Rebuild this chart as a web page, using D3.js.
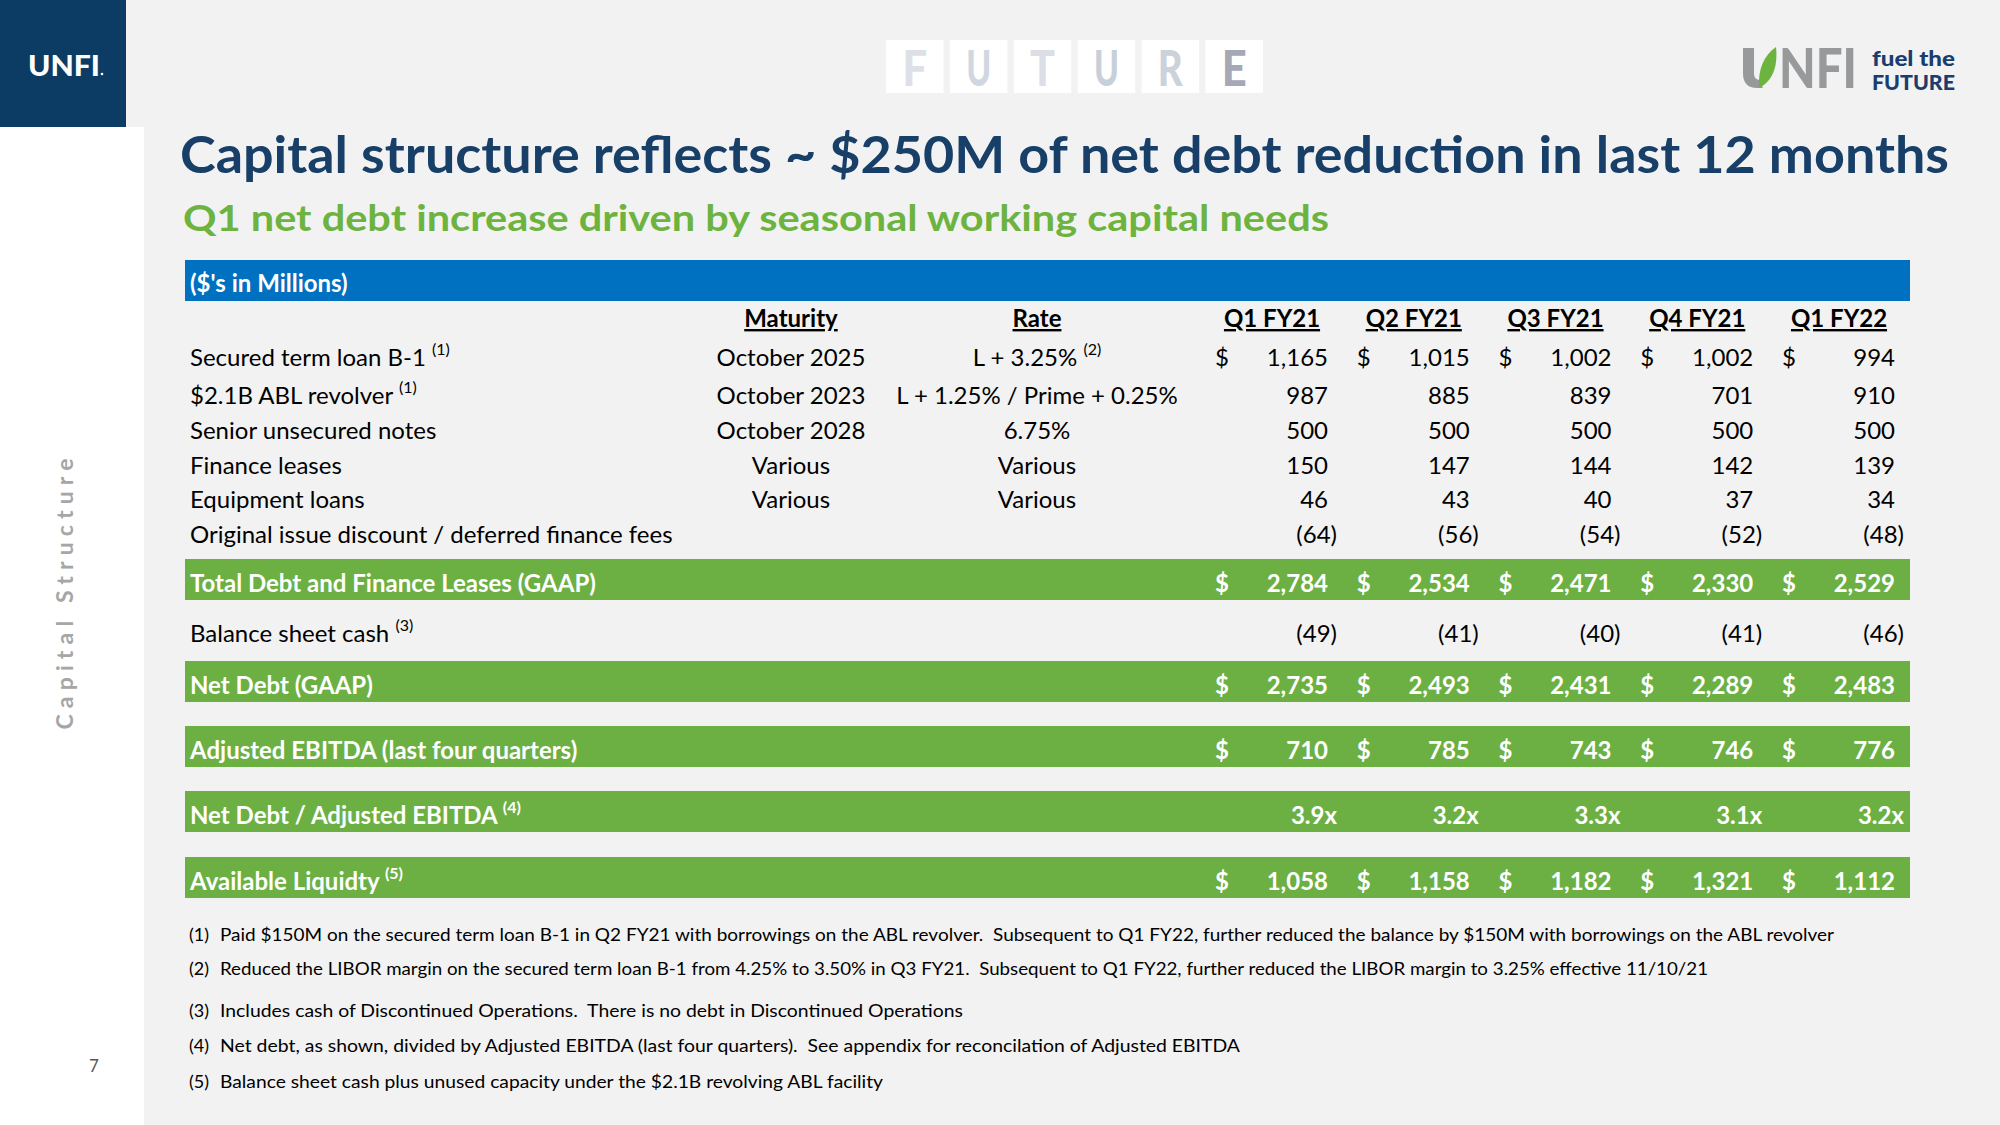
<!DOCTYPE html>
<html><head><meta charset="utf-8">
<script src="https://cdn.jsdelivr.net/npm/d3@7"></script>
<style>html,body{margin:0;padding:0;background:#f2f2f2;overflow:hidden}text{white-space:pre}</style>
</head><body>
<script>
// ---------- DATA ----------
const quarters = ["Q1 FY21", "Q2 FY21", "Q3 FY21", "Q4 FY21", "Q1 FY22"];
const debtLabels = ["Secured term loan B-1", "$2.1B ABL revolver", "Senior unsecured notes", "Finance leases", "Equipment loans", "Original issue discount / deferred finance fees"];
const debtNotes = ["(1)", "(1)", "", "", "", ""];
const maturities = ["October 2025", "October 2023", "October 2028", "Various", "Various", ""];
const rates = ["L + 3.25%", "L + 1.25% / Prime + 0.25%", "6.75%", "Various", "Various", ""];
const rateNotes = ["(2)", "", "", "", "", ""];
const securedTermLoan = [1165, 1015, 1002, 1002, 994];
const ablRevolver = [987, 885, 839, 701, 910];
const seniorNotes = [500, 500, 500, 500, 500];
const financeLeases = [150, 147, 144, 142, 139];
const equipmentLoans = [46, 43, 40, 37, 34];
const oidFees = [-64, -56, -54, -52, -48];
const totalDebt = [2784, 2534, 2471, 2330, 2529];
const balanceSheetCash = [-49, -41, -40, -41, -46];
const netDebt = [2735, 2493, 2431, 2289, 2483];
const adjEbitda = [710, 785, 743, 746, 776];
const leverage = [3.9, 3.2, 3.3, 3.1, 3.2];
const liquidity = [1058, 1158, 1182, 1321, 1112];
const footnoteNums = ["(1)", "(2)", "(3)", "(4)", "(5)"];
const footnotes = [
  "Paid $150M on the secured term loan B-1 in Q2 FY21 with borrowings on the ABL revolver.  Subsequent to Q1 FY22, further reduced the balance by $150M with borrowings on the ABL revolver",
  "Reduced the LIBOR margin on the secured term loan B-1 from 4.25% to 3.50% in Q3 FY21.  Subsequent to Q1 FY22, further reduced the LIBOR margin to 3.25% effective 11/10/21",
  "Includes cash of Discontinued Operations.  There is no debt in Discontinued Operations",
  "Net debt, as shown, divided by Adjusted EBITDA (last four quarters).  See appendix for reconcilation of Adjusted EBITDA",
  "Balance sheet cash plus unused capacity under the $2.1B revolving ABL facility"
];
const titleText = "Capital structure reflects ~ $250M of net debt reduction in last 12 months";
const subtitleText = "Q1 net debt increase driven by seasonal working capital needs";
const unitsText = "($'s in Millions)";
const sideText = "Capital Structure";
const pageNum = "7";
const futureLetters = ["F", "U", "T", "U", "R", "E"];

// ---------- LAYOUT / STYLE ----------
const W = 2000, H = 1125;
const FONT = "Lato, 'Open Sans', 'DejaVu Sans', sans-serif";
const NAVY = "#0c3c64", TITLE = "#173f68", GREEN = "#6db33f", BAND = "#6cb044", BLUE = "#0070c0";
const tileColors = ["#dde1e7", "#d0d7e0", "#dbdfe5", "#c7d0da", "#ccd2da", "#a5a8b5"];

const svg = d3.select("body").append("svg").attr("width", W).attr("height", H).style("display", "block");
svg.append("rect").attr("width", W).attr("height", H).attr("fill", "#f2f2f2");
svg.append("rect").attr("x", 0).attr("y", 127).attr("width", 144).attr("height", H - 127).attr("fill", "#ffffff");
svg.append("rect").attr("x", 0).attr("y", 0).attr("width", 126).attr("height", 127).attr("fill", NAVY);

function T(g, x, y, s, o = {}) {
  const t = g.append("text").attr("x", x).attr("y", y).text(s)
    .attr("font-family", o.family || FONT)
    .attr("font-size", o.size || 24)
    .attr("font-weight", o.weight || 400)
    .attr("fill", o.fill || "#000")
    .attr("text-anchor", o.anchor || "start");
  if (o.len) t.attr("textLength", o.len).attr("lengthAdjust", o.adjust || "spacingAndGlyphs");
  if (o.deco) t.attr("text-decoration", o.deco);
  if (o.ls) t.attr("letter-spacing", o.ls);
  return t;
}

// left logo
T(svg, 28, 76, "UNFI", {size: 29, weight: 900, fill: "#fff", len: 72});
svg.append("circle").attr("cx", 102).attr("cy", 74).attr("r", 1.3).attr("fill", "#fff");

// FUTURE tiles
const tileX = d3.scaleBand().domain(d3.range(futureLetters.length)).range([886, 1263]).paddingInner(0.1).paddingOuter(0);
futureLetters.forEach((L, i) => {
  svg.append("rect").attr("x", tileX(i)).attr("y", 40).attr("width", tileX.bandwidth()).attr("height", 53).attr("fill", "#fff");
  T(svg, tileX(i) + tileX.bandwidth() / 2, 86, L, {size: 50, weight: 900, fill: tileColors[i], anchor: "middle", len: 25});
});

// right logo
const lg = svg.append("g");
lg.append("path").attr("d", "M1743,48 H1754 V74 Q1754,79 1759,80 L1763,88 H1757 Q1743,88 1743,73 Z").attr("fill", "#97999b");
lg.append("path").attr("d", "M1759,88 C1758,70 1763,56 1776,47 C1778,66 1773,81 1759,88 Z").attr("fill", GREEN);
T(lg, 1779, 88, "NFI", {size: 56, weight: 900, fill: "#97999b", len: 78});
T(lg, 1872, 66, "fuel the", {size: 20, weight: 900, fill: "#1b3d6d", len: 83});
T(lg, 1872, 89.5, "FUTURE", {size: 20, weight: 900, fill: "#1b3d6d", len: 83});

// titles
T(svg, 180, 173, titleText, {size: 52, weight: 700, fill: TITLE, len: 1769});
T(svg, 183, 231, subtitleText, {size: 37, weight: 700, fill: GREEN, len: 1146});

// side label and page number
T(svg, 0, 0, sideText, {size: 23, weight: 700, fill: "#a6a6a6", anchor: "middle", len: 271, adjust: "spacing"})
  .attr("transform", "translate(73,594) rotate(-90)");
T(svg, 94, 1072, pageNum, {size: 17, fill: "#595959", anchor: "middle"});

// ---------- TABLE ----------
const LX = 190, TABLE_L = 185, TABLE_R = 1910;
const xVal = d3.scalePoint().domain(quarters).range([1328, 1895]);
const DOLLAR_OFF = 113, HEAD_OFF = 56, PAREN_OFF = 9;
const fmt = d3.format(",");
const fmtR = d3.format(".1f");
const matX = 791, rateX = 1037;

// blue units bar
svg.append("rect").attr("x", TABLE_L).attr("y", 260).attr("width", TABLE_R - TABLE_L).attr("height", 41).attr("fill", BLUE);
T(svg, LX, 292, unitsText, {size: 24, weight: 700, fill: "#fff"});

// column headers
T(svg, matX, 327, "Maturity", {size: 24, weight: 700, anchor: "middle", deco: "underline"});
T(svg, rateX, 327, "Rate", {size: 24, weight: 700, anchor: "middle", deco: "underline"});
quarters.forEach(q => T(svg, xVal(q) - HEAD_OFF, 327, q, {size: 24, weight: 700, anchor: "middle", deco: "underline"}));

function labelWithNote(g, x, y, label, note, o) {
  const t = T(g, x, y, "", o);
  t.append("tspan").text(label);
  if (note) {
    t.append("tspan").text(" ");
    t.append("tspan").attr("dy", -11).attr("font-size", 16).text(note);
  }
  return t;
}

function valueCells(g, y, vals, opts) {
  vals.forEach((v, i) => {
    const q = quarters[i];
    const xr = xVal(q);
    if (opts.dollar) T(g, xr - DOLLAR_OFF, y, "$", opts.style);
    if (opts.ratio) T(g, xr + PAREN_OFF, y, fmtR(v) + "x", Object.assign({anchor: "end"}, opts.style));
    else if (v < 0) T(g, xr + PAREN_OFF, y, "(" + fmt(-v) + ")", Object.assign({anchor: "end"}, opts.style));
    else T(g, xr, y, fmt(v), Object.assign({anchor: "end"}, opts.style));
  });
}

// detail rows
const detailValues = [securedTermLoan, ablRevolver, seniorNotes, financeLeases, equipmentLoans, oidFees];
const detailDollar = [true, false, false, false, false, false];
const yDetail = d3.scaleOrdinal().domain(d3.range(debtLabels.length)).range([366, 404, 439, 474, 508, 543]);
const body = {size: 24, weight: 400, fill: "#000"};
debtLabels.forEach((lab, i) => {
  const y = yDetail(i);
  labelWithNote(svg, LX, y, lab, debtNotes[i], body);
  if (maturities[i]) T(svg, matX, y, maturities[i], Object.assign({anchor: "middle"}, body));
  if (rates[i]) labelWithNote(svg, rateX, y, rates[i], rateNotes[i], Object.assign({anchor: "middle"}, body));
  valueCells(svg, y, detailValues[i], {dollar: detailDollar[i], style: body});
});

// summary rows
const bandStyle = {size: 24, weight: 700, fill: "#fff"};
const summaryRows = [
  {label: "Total Debt and Finance Leases (GAAP)", note: "", vals: totalDebt, dollar: true, band: true},
  {label: "Balance sheet cash", note: "(3)", vals: balanceSheetCash, dollar: false, band: false},
  {label: "Net Debt (GAAP)", note: "", vals: netDebt, dollar: true, band: true},
  {label: "Adjusted EBITDA (last four quarters)", note: "", vals: adjEbitda, dollar: true, band: true},
  {label: "Net Debt / Adjusted EBITDA", note: "(4)", vals: leverage, dollar: false, band: true, ratio: true},
  {label: "Available Liquidty", note: "(5)", vals: liquidity, dollar: true, band: true}
];
const rowTop = d3.scaleOrdinal().domain(d3.range(summaryRows.length)).range([559, 609, 661, 726, 791, 857]);
const BAND_H = 41;
summaryRows.forEach((r, i) => {
  const top = rowTop(i);
  const y = top + 33;
  const st = r.band ? bandStyle : body;
  if (r.band) svg.append("rect").attr("x", TABLE_L).attr("y", top).attr("width", TABLE_R - TABLE_L).attr("height", BAND_H).attr("fill", BAND);
  labelWithNote(svg, LX, y, r.label, r.note, st);
  valueCells(svg, y, r.vals, {dollar: r.dollar, ratio: r.ratio, style: st});
});

// footnotes
const fnY = d3.scaleOrdinal().domain(d3.range(5)).range([941, 975, 1017, 1052, 1088]);
const fnEnd = [1834, 1708, 963, 1240, 883];
footnotes.forEach((f, i) => {
  T(svg, 189, fnY(i), footnoteNums[i], {size: 18, fill: "#000"});
  T(svg, 220, fnY(i), f, {size: 18, fill: "#000", len: fnEnd[i] - 220});
});
</script>
</body></html>
